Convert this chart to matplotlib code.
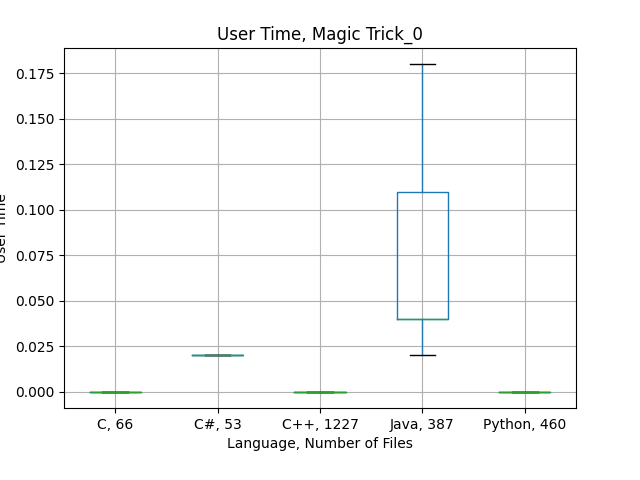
import matplotlib
matplotlib.use('Agg')
import matplotlib.pyplot as plt

labels = ['C, 66', 'C#, 53', 'C++, 1227', 'Java, 387', 'Python, 460']
whislo = [0.0, 0.02, 0.0, 0.02, 0.0]
q1 = [0.0, 0.02, 0.0, 0.04, 0.0]
med = [0.0, 0.02, 0.0, 0.04, 0.0]
q3 = [0.0, 0.02, 0.0, 0.11, 0.0]
whishi = [0.0, 0.02, 0.0, 0.18, 0.0]

stats = []
for i in range(len(labels)):
    stats.append({'label': labels[i], 'whislo': whislo[i], 'q1': q1[i], 'med': med[i],
                  'q3': q3[i], 'whishi': whishi[i], 'fliers': []})

fig, ax = plt.subplots(figsize=(6.4, 4.8), dpi=100)
fig.subplots_adjust(left=0.1, right=0.9, top=0.9, bottom=0.15)
ax.bxp(stats, showfliers=False,
       boxprops=dict(color='C0'), whiskerprops=dict(color='C0'),
       medianprops=dict(color='C2'), capprops=dict(color='black'))
ax.grid(True)
ax.set_title('User Time, Magic Trick_0')
ax.set_xlabel('Language, Number of Files')
ax.set_ylabel('User Time')
fig.savefig('out.png')
